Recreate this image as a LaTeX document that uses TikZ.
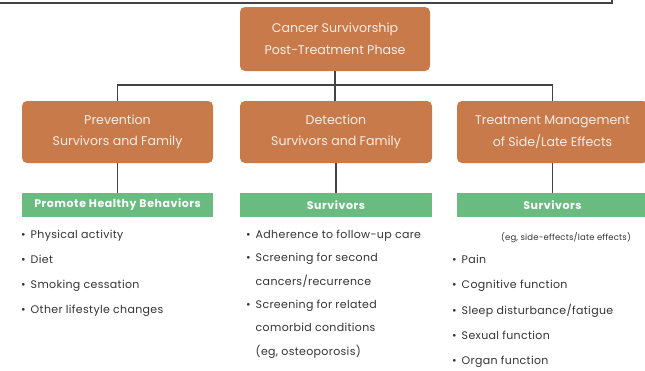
\documentclass[tikz,border=0pt]{standalone}
\usepackage{fontspec}
\setmainfont{Poppins}
\definecolor{boxorange}{HTML}{C97A4A}
\definecolor{bargreen}{HTML}{6ABB80}
\definecolor{linegray}{HTML}{444444}
\definecolor{txt}{HTML}{333333}
\definecolor{boxtxt}{HTML}{F8EDE6}
\begin{document}
\begin{tikzpicture}[x=1pt,y=-1pt,
  obox/.style={draw=none,fill=boxorange,rounded corners=5pt,minimum width=191pt,minimum height=62pt,
    text=boxtxt,align=center,font=\fontsize{12.6}{21.5}\selectfont,inner sep=0pt},
  gbar/.style={draw=none,fill=bargreen,minimum width=191pt,minimum height=24pt,inner sep=0pt,
    text=white,font=\fontsize{11}{12}\selectfont\bfseries\addfontfeatures{LetterSpace=5}},
  conn/.style={draw=linegray,line width=1.4pt},
  list/.style={anchor=north west,align=left,text=txt,inner sep=0pt},
]
\useasboundingbox (0,0) rectangle (645,370);
% frame edge at top
\coordinate (fa) at (-2,3);
\coordinate (fb) at (612,3);
\coordinate (fc) at (612,-2);
\draw[linegray,line width=1.5pt] (fa) -- (fb) -- (fc);

\node[obox,minimum width=190pt,minimum height=64pt] (top) at (335,39) {Cancer Survivorship\\Post-Treatment Phase};
\node[obox] (left) at (117.5,132) {Prevention\\Survivors and Family};
\node[obox,minimum width=192pt] (mid) at (336,132) {Detection\\Survivors and Family};
\node[obox] (right) at (552.5,132) {Treatment Management\\of Side/Late Effects};

\node[gbar] (lg) at (117.5,205) {Promote Healthy Behaviors};
\node[gbar,minimum width=192pt] (mg) at (336,205) {Survivors};
\node[gbar] (rg) at (552.5,205) {Survivors};

\coordinate (bus) at (335,85);
\draw[conn] (left.north) |- (bus) -| (right.north);
\draw[conn] (top.south) -- (top.south |- mid.north);
\draw[conn] (left.south) -- (lg.north);
\draw[conn] (mid.south) -- (mg.north);
\draw[conn] (right.south) -- (rg.north);

\node[list,font=\fontsize{11}{25}\selectfont\addfontfeatures{LetterSpace=3}] (ll) at (21,230)
  {\textbullet\hspace{5pt}Physical activity\\
   \textbullet\hspace{5pt}Diet\\
   \textbullet\hspace{5pt}Smoking cessation\\
   \textbullet\hspace{5pt}Other lifestyle changes};

\node[list,font=\fontsize{11}{23.3}\selectfont\addfontfeatures{LetterSpace=3}] (ml) at (246,230)
  {\textbullet\hspace{5pt}Adherence to follow-up care\\
   \textbullet\hspace{5pt}Screening for second\\
   \phantom{\textbullet}\hspace{5pt}cancers/recurrence\\
   \textbullet\hspace{5pt}Screening for related\\
   \phantom{\textbullet}\hspace{5pt}comorbid conditions\\
   \phantom{\textbullet}\hspace{5pt}(eg, osteoporosis)};

\node[anchor=base,text=txt,inner sep=0pt,font=\fontsize{8.5}{10}\selectfont\addfontfeatures{LetterSpace=2}] (rh) at (566,240)
  {(eg, side-effects/late effects)};

\node[list,font=\fontsize{11}{25.3}\selectfont\addfontfeatures{LetterSpace=3}] (rl) at (452,255)
  {\textbullet\hspace{5pt}Pain\\
   \textbullet\hspace{5pt}Cognitive function\\
   \textbullet\hspace{5pt}Sleep disturbance/fatigue\\
   \textbullet\hspace{5pt}Sexual function\\
   \textbullet\hspace{5pt}Organ function};
\end{tikzpicture}
\end{document}
